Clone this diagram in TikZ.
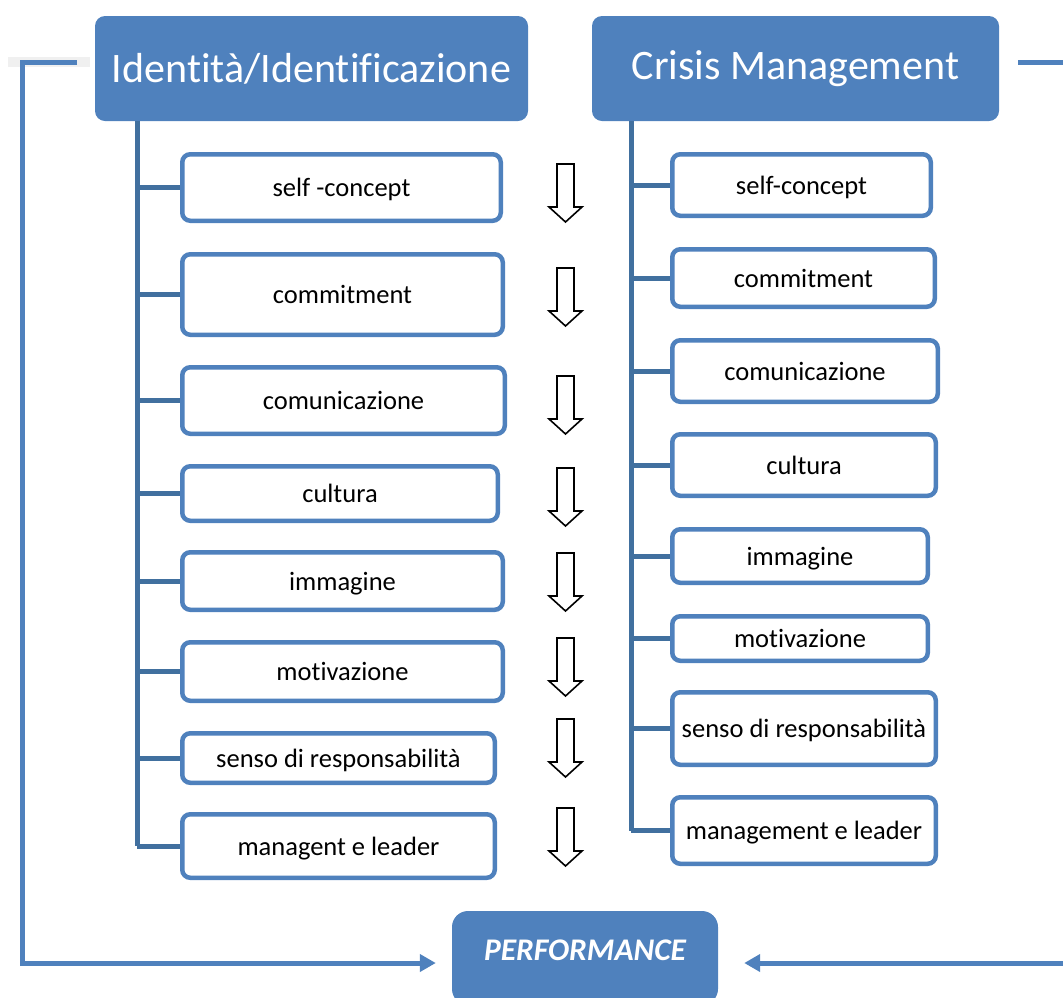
\documentclass[tikz,border=0pt]{standalone}
\usepackage{fontspec}
\setmainfont{Carlito}[Ligatures=NoCommon]
\usepackage{tikz}
\usetikzlibrary{arrows.meta,positioning}
\definecolor{hdblue}{HTML}{4F81BD}
\definecolor{treeblue}{HTML}{41709F}

\begin{document}
\begin{tikzpicture}[x=1pt, y=-1pt]
		\tikzstyle{Header} 	= [rectangle, rounded corners=10pt, fill=hdblue, text=white, font=\fontsize{42}{50}\selectfont, inner sep=0pt, minimum height=105pt]
		\tikzstyle{Item}	= [rectangle, rounded corners=8pt, draw=hdblue, line width=4.5pt, fill=white, font=\fontsize{26.5}{32}\selectfont, inner sep=0pt, text height=21pt, text depth=3pt]
		\tikzstyle{Perf}	= [rectangle, rounded corners=16pt, fill=hdblue, text=white, font=\fontsize{31.5}{38}\selectfont\bfseries\itshape, inner sep=0pt, text height=49pt, text depth=45pt, minimum width=266pt]
		\tikzstyle{Tree}	= [line width=5pt, treeblue]
		\tikzstyle{Link}	= [line width=5pt, hdblue]
		\tikzstyle{Down}	= [line width=1.6pt, black, fill=white, line join=miter]

		\useasboundingbox (0,0) rectangle (1063,997);
		\fill[black!6] (8,57) rectangle (90,67);

		\node (h1) at (311.5, 68.5) [Header, minimum width=433pt] {Identità/Identificazione};
		\node (h2) at (795.5, 68.5) [Header, minimum width=407pt] {Crisis Management};

		\node (l1) at (341.5, 187.5) [Item, minimum width=318.5pt, minimum height=66.5pt] {self -concept};
		\node (l2) at (342.5, 294.5) [Item, minimum width=320.5pt, minimum height=80.5pt] {commitment};
		\node (l3) at (343.5, 400.5) [Item, minimum width=322.5pt, minimum height=66.5pt] {comunicazione};
		\node (l4) at (340, 493.5) [Item, minimum width=315.5pt, minimum height=54.5pt] {cultura};
		\node (l5) at (342.5, 581) [Item, minimum width=320.5pt, minimum height=57.5pt] {immagine};
		\node (l6) at (342.5, 671.5) [Item, minimum width=320.5pt, minimum height=58.5pt] {motivazione};
		\node (l7) at (338.5, 758) [Item, minimum width=312.5pt, minimum height=49.5pt] {senso di responsabilità};
		\node (l8) at (338.5, 846) [Item, minimum width=312.5pt, minimum height=63.5pt] {managent e leader};

		\node (r1) at (801.5, 185) [Item, minimum width=258.5pt, minimum height=61.5pt] {self-concept};
		\node (r2) at (803.5, 278) [Item, minimum width=262.5pt, minimum height=57.5pt] {commitment};
		\node (r3) at (805, 371) [Item, minimum width=265.5pt, minimum height=61.5pt] {comunicazione};
		\node (r4) at (804, 465) [Item, minimum width=263.5pt, minimum height=61.5pt] {cultura};
		\node (r5) at (800, 556) [Item, minimum width=255.5pt, minimum height=53.5pt] {immagine};
		\node (r6) at (800, 638.5) [Item, minimum width=255.5pt, minimum height=44.5pt] {motivazione};
		\node (r7) at (804, 728.5) [Item, minimum width=263.5pt, minimum height=72.5pt] {senso di responsabilità};
		\node (r8) at (804, 830.5) [Item, minimum width=263.5pt, minimum height=66.5pt] {management e leader};

		\node (perf) at (585, 960) [Perf, anchor=base] {PERFORMANCE};

		\coordinate (tl) at (137, 121);
		\coordinate (tr) at (631, 121);

		\draw [-] (tl) to (tl |- l8.west) [Tree];
		\draw [-] (tl |- l1.west) to (l1.west) [Tree];
		\draw [-] (tl |- l2.west) to (l2.west) [Tree];
		\draw [-] (tl |- l3.west) to (l3.west) [Tree];
		\draw [-] (tl |- l4.west) to (l4.west) [Tree];
		\draw [-] (tl |- l5.west) to (l5.west) [Tree];
		\draw [-] (tl |- l6.west) to (l6.west) [Tree];
		\draw [-] (tl |- l7.west) to (l7.west) [Tree];
		\draw [-] (tl |- l8.west) to (l8.west) [Tree];

		\draw [-] (tr) to (tr |- r8.west) [Tree];
		\draw [-] (tr |- r1.west) to (r1.west) [Tree];
		\draw [-] (tr |- r2.west) to (r2.west) [Tree];
		\draw [-] (tr |- r3.west) to (r3.west) [Tree];
		\draw [-] (tr |- r4.west) to (r4.west) [Tree];
		\draw [-] (tr |- r5.west) to (r5.west) [Tree];
		\draw [-] (tr |- r6.west) to (r6.west) [Tree];
		\draw [-] (tr |- r7.west) to (r7.west) [Tree];
		\draw [-] (tr |- r8.west) to (r8.west) [Tree];

		\draw [Down] (557,164) -- ++(17,0) -- ++(0,43) -- ++(8,0) -- ++(-16.5,15) -- ++(-16.5,-15) -- ++(8,0) -- cycle;
		\draw [Down] (557,268) -- ++(17,0) -- ++(0,43) -- ++(8,0) -- ++(-16.5,15) -- ++(-16.5,-15) -- ++(8,0) -- cycle;
		\draw [Down] (557,376) -- ++(17,0) -- ++(0,43) -- ++(8,0) -- ++(-16.5,15) -- ++(-16.5,-15) -- ++(8,0) -- cycle;
		\draw [Down] (557,468) -- ++(17,0) -- ++(0,43) -- ++(8,0) -- ++(-16.5,15) -- ++(-16.5,-15) -- ++(8,0) -- cycle;
		\draw [Down] (557,553) -- ++(17,0) -- ++(0,43) -- ++(8,0) -- ++(-16.5,15) -- ++(-16.5,-15) -- ++(8,0) -- cycle;
		\draw [Down] (557,638) -- ++(17,0) -- ++(0,43) -- ++(8,0) -- ++(-16.5,15) -- ++(-16.5,-15) -- ++(8,0) -- cycle;
		\draw [Down] (557,719) -- ++(17,0) -- ++(0,43) -- ++(8,0) -- ++(-16.5,15) -- ++(-16.5,-15) -- ++(8,0) -- cycle;
		\draw [Down] (557,808) -- ++(17,0) -- ++(0,43) -- ++(8,0) -- ++(-16.5,15) -- ++(-16.5,-15) -- ++(8,0) -- cycle;

		\coordinate (ls) at (77, 62);
		\coordinate (lb) at (22, 963);
		\coordinate (rs) at (1018, 62);
		\coordinate (rb) at (1080, 963);

		\draw [-{Triangle[length=16pt, width=17pt]}, shorten >=16pt] (ls) -| (lb) -- (perf.west |- lb) [Link];
		\draw [-{Triangle[length=16pt, width=17pt]}, shorten >=26pt] (rs) -| (rb) -- (perf.east |- rb) [Link];
	\end{tikzpicture}
\end{document}
